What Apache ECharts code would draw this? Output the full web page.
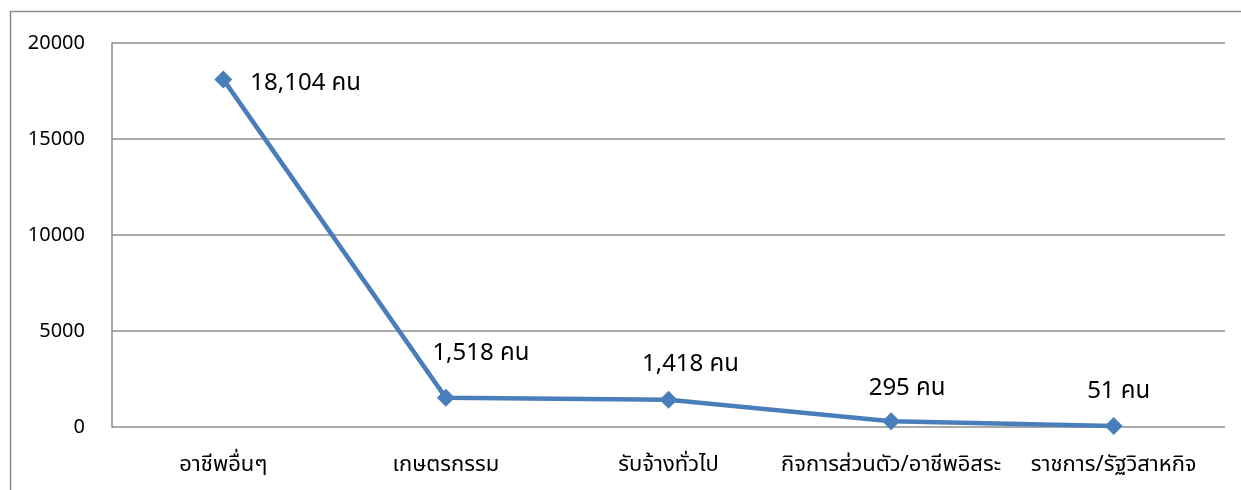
<!DOCTYPE html>
<html><head><meta charset="utf-8">
<script src="https://cdn.jsdelivr.net/npm/echarts@6/dist/echarts.min.js"></script>
<style>html,body{margin:0;padding:0;background:#fff;}#c{width:1241px;height:490px;}</style>
</head><body><div id="c"></div>
<script>
const categories = ['อาชีพอื่นๆ', 'เกษตรกรรม', 'รับจ้างทั่วไป', 'กิจการส่วนตัว/อาชีพอิสระ', 'ราชการ/รัฐวิสาหกิจ'];
const values = [18104, 1518, 1418, 295, 51];
const yTicks = [0, 5000, 10000, 15000, 20000];

const FONT = '"Noto Sans", "Noto Sans Thai", Tahoma, sans-serif';
const labelOffsets = [[13, 4], [35, -19], [22, -10], [16, -7], [5, -9]];
const labelPos = ['right', 'top', 'top', 'top', 'top'];

const chart = echarts.init(document.getElementById('c'));
chart.setOption({
  animation: false,
  graphic: [{type: 'rect', shape: {x: 10.5, y: 11.5, width: 1400, height: 700}, style: {fill: 'none', stroke: '#8c8c8c', lineWidth: 1.5}, silent: true}],
  grid: {left: 112, right: 16, top: 43, bottom: 63, containLabel: false},
  xAxis: {
    type: 'category', data: categories, boundaryGap: true,
    axisLine: {show: false}, axisTick: {show: false},
    axisLabel: {color: '#000', fontSize: 22, fontFamily: FONT, margin: 27, interval: 0}
  },
  yAxis: {
    type: 'value', min: yTicks[0], max: yTicks[yTicks.length - 1], interval: yTicks[1] - yTicks[0],
    axisLine: {show: true, lineStyle: {color: '#8c8c8c', width: 1.5}}, axisTick: {show: false},
    splitLine: {lineStyle: {color: '#8c8c8c', width: 1.5}},
    axisLabel: {color: '#000', fontSize: 20, fontFamily: FONT, margin: 27, formatter: v => String(v)}
  },
  series: [{
    type: 'line', data: values.map((v, i) => ({
      value: v,
      label: {position: labelPos[i], offset: labelOffsets[i]}
    })),
    symbol: 'diamond', symbolSize: 18,
    lineStyle: {color: '#4a7ebb', width: 4.5},
    itemStyle: {color: '#4a7ebb'},
    label: {show: true, color: '#000', fontSize: 24, fontFamily: FONT,
      formatter: p => p.value.toLocaleString('en-US') + ' คน'}
  }]
});
</script></body></html>
